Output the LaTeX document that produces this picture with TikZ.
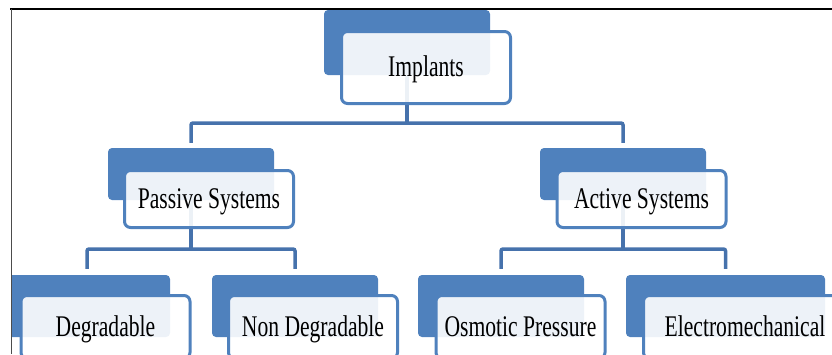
\documentclass[tikz,border=0pt]{standalone}
\usepackage{fontspec}
\setmainfont{Liberation Serif}[FakeStretch=0.72]
\usepackage{tikz}
\definecolor{implblue}{HTML}{4F81BD}
\definecolor{linkblue}{HTML}{4672AC}
\pgfdeclarelayer{bg}
\pgfsetlayers{bg,main}

\begin{document}
\begin{tikzpicture}[x=1pt,y=-1pt,
        back/.style={fill=implblue,rounded corners=4pt,inner sep=0pt,minimum width=166pt},
        front/.style={draw=implblue,line width=3pt,fill=white,fill opacity=0.9,text opacity=1,
            rounded corners=6pt,inner sep=0pt,minimum width=169pt,text height=24pt,text depth=6pt,
            font=\fontsize{30}{36}\selectfont},
        link/.style={draw=linkblue,line width=3.5pt,rounded corners=2pt}]
            \useasboundingbox (0,0) rectangle (832,354);
            \begin{scope}
                \clip (11,9) rectangle (832,354);
                % top level
                \node[back,minimum height=65pt] (implB) at (407,42.5) {};
                \node[front,minimum height=72pt] (impl) at (426,67.5) {Implants};
                % second level
                \node[back,minimum height=52pt] (passB) at (191,174) {};
                \node[front,minimum height=57pt] (pass) at (209,199) {Passive Systems};
                \node[back,minimum height=52pt] (actB) at (623,174) {};
                \node[front,minimum height=57pt] (act) at (641.5,199) {Active Systems};
                % third level
                \node[back,minimum height=62pt] (degB) at (87,306) {};
                \node[front,minimum height=63pt] (deg) at (105.5,327) {Degradable};
                \node[back,minimum height=62pt] (nondegB) at (295,306) {};
                \node[front,minimum height=63pt] (nondeg) at (313,327) {Non Degradable};
                \node[back,minimum height=62pt] (osmB) at (501,306) {};
                \node[front,minimum height=63pt] (osm) at (520.5,327) {Osmotic Pressure};
                \node[back,minimum height=62pt,minimum width=199pt] (elecB) at (725.5,306) {};
                \node[front,minimum height=63pt,minimum width=203pt] (elec) at (745,327) {Electromechanical};
            \end{scope}
            \begin{pgfonlayer}{bg}
                \coordinate (fork1) at (407,123);
                \coordinate (fork2) at (191,249);
                \coordinate (fork3) at (623,249);
                \draw[link] (implB.center) -- (fork1);
                \draw[link,shorten >=5pt] (fork1) -| (passB.north);
                \draw[link,shorten >=5pt] (fork1) -| (actB.north);
                \draw[link] (passB.center) -- (fork2);
                \draw[link,shorten >=6pt] (fork2) -| (degB.north);
                \draw[link,shorten >=6pt] (fork2) -| (nondegB.north);
                \draw[link] (actB.center) -- (fork3);
                \draw[link,shorten >=6pt] (fork3) -| (osmB.north);
                \draw[link,shorten >=6pt] (fork3) -| (elecB.north);
            \end{pgfonlayer}
            % frame edges
            \draw[line width=1.2pt] (10,9) -- (832,9);
            \draw[line width=1pt,black!70] (11,9) -- (11,354);
        \end{tikzpicture}
\end{document}
